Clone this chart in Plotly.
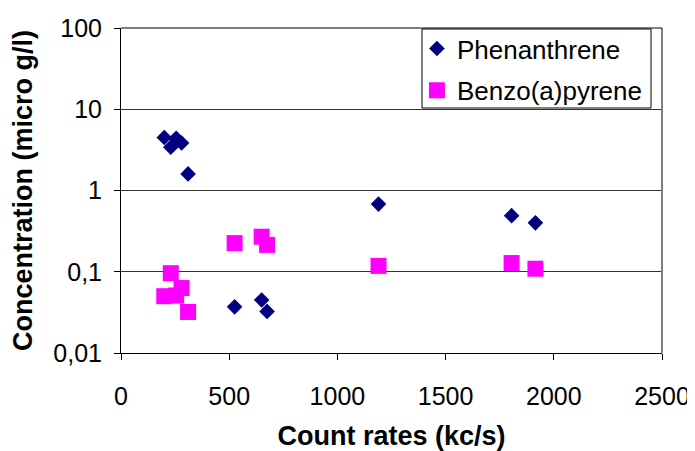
import plotly.graph_objects as go

count_rates = [200, 230, 255, 280, 310, 525, 650, 675, 1190, 1805, 1915]
phenanthrene = [4.5, 3.4, 4.4, 3.85, 1.6, 0.037, 0.045, 0.0325, 0.68, 0.49, 0.40]
benzo_a_pyrene = [0.05, 0.096, 0.051, 0.063, 0.032, 0.225, 0.27, 0.214, 0.118, 0.128, 0.109]

y_tickvals = [0.01, 0.1, 1, 10, 100]
y_ticktext = ["0,01", "0,1", "1", "10", "100"]
x_tickvals = [0, 500, 1000, 1500, 2000, 2500]

FONT = "Arial, Liberation Sans, sans-serif"

fig = go.Figure()
fig.add_trace(go.Scatter(
    x=count_rates, y=phenanthrene, mode="markers", name="Phenanthrene",
    legendgroup="a",
    marker=dict(symbol="diamond", size=12, color="#000080", line=dict(width=0)),
))
fig.add_trace(go.Scatter(
    x=count_rates, y=benzo_a_pyrene, mode="markers", name="Benzo(a)pyrene",
    legendgroup="b",
    marker=dict(symbol="square", size=16, color="#FF00FF", line=dict(width=0)),
))

# page body has an 8px margin, so the figure is 8px smaller than the window
fig.update_layout(
    width=687, height=443,
    margin=dict(l=113, r=33, t=20, b=98, autoexpand=False),
    paper_bgcolor="white", plot_bgcolor="white",
    font=dict(family=FONT, size=25, color="black"),
    showlegend=True,
    legend=dict(
        x=0.547, y=1.009, xanchor="left", yanchor="top",
        bgcolor="rgba(0,0,0,0)", borderwidth=0,
        font=dict(family=FONT, size=26, color="black"),
        tracegroupgap=5, traceorder="grouped", itemwidth=30,
    ),
    xaxis=dict(
        range=[0, 2500], tickvals=x_tickvals, automargin=False,
        showgrid=False, zeroline=False,
        showline=True, linecolor="black", linewidth=1,
        ticks="outside", ticklen=6, tickcolor="black",
        ticklabelstandoff=15,
        tickfont=dict(family=FONT, size=25),
        title=dict(text="<b>Count rates (kc/s)</b>", font=dict(family=FONT, size=27), standoff=25),
    ),
    yaxis=dict(
        type="log", range=[-2, 2], tickvals=y_tickvals, ticktext=y_ticktext,
        automargin=False,
        showgrid=True, gridcolor="#333333", gridwidth=1,
        zeroline=False,
        showline=True, linecolor="black", linewidth=1,
        ticks="outside", ticklen=6, tickcolor="black",
        ticklabelstandoff=7,
        tickfont=dict(family=FONT, size=25),
        title=dict(text="<b>Concentration (micro g/l)</b>", font=dict(family=FONT, size=27), standoff=20),
    ),
    shapes=[
        dict(type="line", xref="paper", yref="paper", x0=1, x1=1, y0=0, y1=1,
             line=dict(color="#808080", width=2)),
        dict(type="line", xref="paper", yref="paper", x0=0, x1=1, y0=1, y1=1,
             line=dict(color="black", width=1)),
        dict(type="rect", xref="paper", yref="paper",
             x0=0.5564, x1=0.9797, y0=0.7538, y1=0.9969,
             fillcolor="white", line=dict(color="black", width=1), layer="above"),
    ],
)

fig.write_html("out.html")
